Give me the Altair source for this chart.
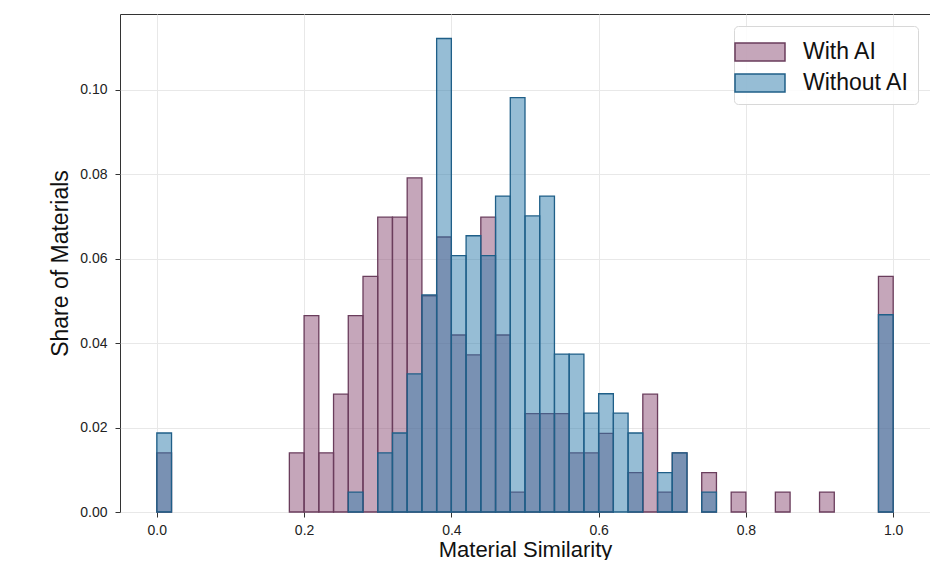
import altair as alt
import pandas as pd

# Histogram bins: 50 bins of width 0.02 on [0, 1]
bin_width = 0.02

series_names = ["With AI", "Without AI"]

# Share of materials per bin
with_ai = [
    0.0140, 0, 0, 0, 0, 0, 0, 0, 0, 0.0140,
    0.0465, 0.0140, 0.0279, 0.0465, 0.0558, 0.0698, 0.0698, 0.0791, 0.0512, 0.0651,
    0.0419, 0.0372, 0.0698, 0.0419, 0.0047, 0.0233, 0.0233, 0.0233, 0.0140, 0.0140,
    0.0186, 0, 0.0093, 0.0279, 0.0047, 0.0140, 0, 0.0093, 0, 0.0047,
    0, 0, 0.0047, 0, 0, 0.0047, 0, 0, 0, 0.0558,
]
without_ai = [
    0.0187, 0, 0, 0, 0, 0, 0, 0, 0, 0,
    0, 0, 0, 0.0047, 0, 0.0140, 0.0187, 0.0327, 0.0514, 0.1121,
    0.0607, 0.0654, 0.0607, 0.0748, 0.0981, 0.0701, 0.0748, 0.0374, 0.0374, 0.0234,
    0.0280, 0.0234, 0.0187, 0, 0.0093, 0.0140, 0, 0.0047, 0, 0,
    0, 0, 0, 0, 0, 0, 0, 0, 0, 0.0467,
]

x_ticks = [0.0, 0.2, 0.4, 0.6, 0.8, 1.0]
y_ticks = [0.00, 0.02, 0.04, 0.06, 0.08, 0.10]

fill_colors = ["rgba(139,78,118,0.5)", "rgba(45,124,172,0.5)"]
edge_colors = ["#6a3d5c", "#1f5f88"]

rows = []
for k, (name, vals) in enumerate(zip(series_names, [with_ai, without_ai])):
    for i, v in enumerate(vals):
        if v > 0:
            rows.append({
                "series": name,
                "x0": round(i * bin_width, 4),
                "x1": round((i + 1) * bin_width, 4),
                "share": v,
                "ord": k,
            })
df = pd.DataFrame(rows)

FONT = "Liberation Sans"

legend = alt.Legend(
    title=None,
    orient="top-right",
    offset=12,
    symbolType="M-1.47,-0.53L1.47,-0.53L1.47,0.53L-1.47,0.53Z",
    symbolSize=1156,
    symbolStrokeWidth=1.5,
    labelFontSize=23,
    labelFont=FONT,
    labelColor="#111111",
    labelOffset=25,
    padding=8,
    rowPadding=0,
    fillColor="rgba(255,255,255,0.85)",
    strokeColor="#d8d8d8",
    cornerRadius=4,
)

chart = alt.Chart(df).mark_bar(
    strokeWidth=1.3, cornerRadius=0
).encode(
    x=alt.X(
        "x0:Q",
        scale=alt.Scale(domain=[-0.05, 1.05], nice=False, zero=False),
        axis=alt.Axis(values=x_ticks, format=".1f", title="Material Similarity"),
    ),
    x2="x1:Q",
    y=alt.Y(
        "share:Q",
        stack=None,
        scale=alt.Scale(domain=[0, 0.1179], nice=False),
        axis=alt.Axis(values=y_ticks, format=".2f", title="Share of Materials"),
    ),
    y2=alt.datum(0),
    fill=alt.Fill("series:N", scale=alt.Scale(domain=series_names, range=fill_colors), legend=legend),
    stroke=alt.Stroke("series:N", scale=alt.Scale(domain=series_names, range=edge_colors), legend=legend),
    order=alt.Order("ord:Q"),
).properties(
    width=810,
    height=498,
    autosize=alt.AutoSizeParams(type="none"),
    padding={"left": 112, "top": 6, "right": 0, "bottom": 48},
).configure_view(
    stroke="#333333", strokeWidth=1
).configure_axis(
    labelFont=FONT,
    titleFont=FONT,
    labelFontSize=14,
    titleFontSize=22,
    titleFontWeight="normal",
    labelColor="#222222",
    titleColor="#111111",
    tickColor="#333333",
    tickSize=5,
    tickWidth=1,
    domain=False,
    grid=True,
    gridColor="#e8e8e8",
    gridWidth=1,
).configure_axisX(
    labelPadding=6, titlePadding=2
).configure_axisY(
    labelPadding=8, titlePadding=7, titleFontSize=23
)

chart.save("out.html", embed_options={"renderer": "svg", "actions": False})
